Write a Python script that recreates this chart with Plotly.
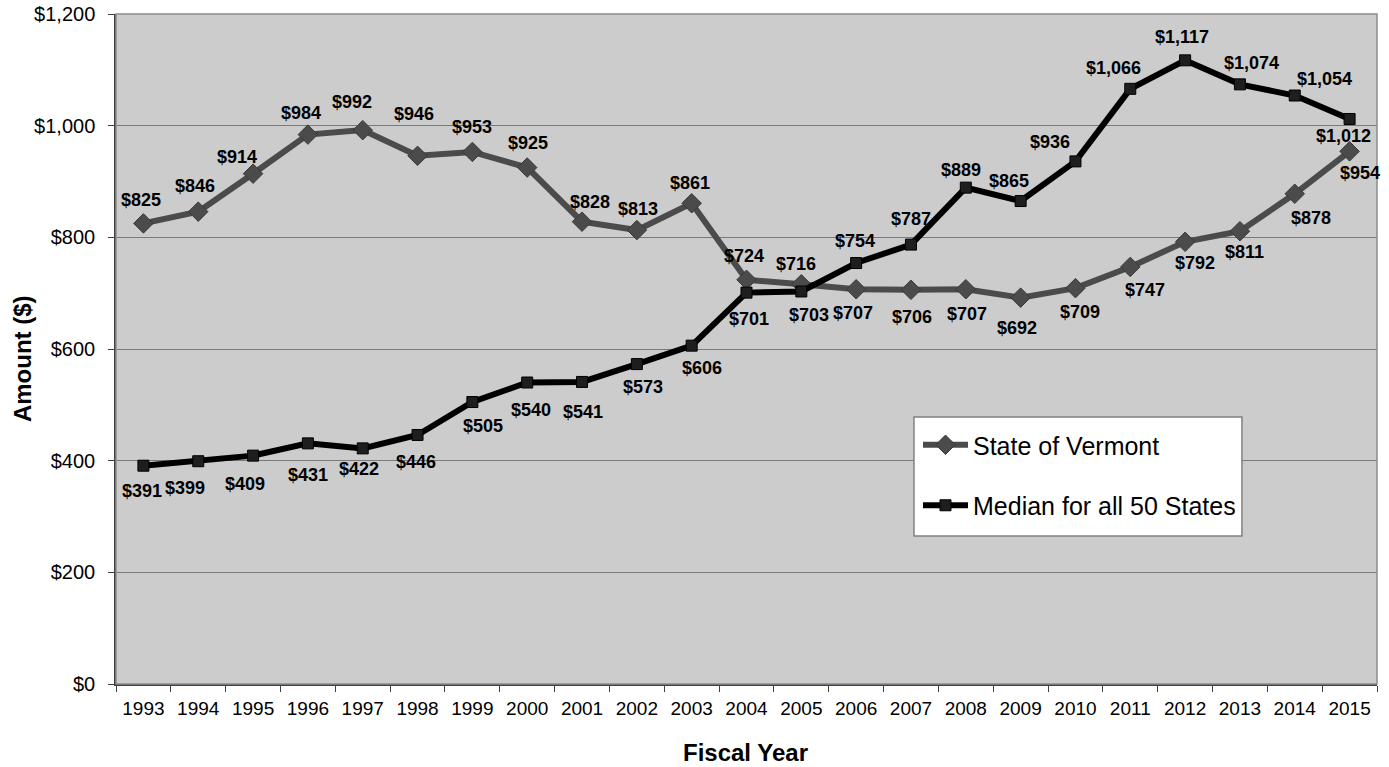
import plotly.graph_objects as go

# Fiscal years on the category axis
years = [str(y) for y in range(1993, 2016)]

# Per-capita amounts ($)
vermont = [825, 846, 914, 984, 992, 946, 953, 925, 828, 813, 861, 724,
           716, 707, 706, 707, 692, 709, 747, 792, 811, 878, 954]
median_50 = [391, 399, 409, 431, 422, 446, 505, 540, 541, 573, 606, 701,
             703, 754, 787, 889, 865, 936, 1066, 1117, 1074, 1054, 1012]

# Pixel nudges for the value labels (dx right, dy down)
vt_label_shift = [(-2, -23), (-3, -26), (-16, -17), (-7, -22), (-11, -28), (-4, -42),
                  (0, -25), (1, -25), (8, -20), (1, -21), (-2, -20), (-3, -24),
                  (-5, -20), (-3, 24), (1, 27), (1, 25), (-4, 30), (5, 24),
                  (15, 23), (10, 21), (5, 21), (16, 24), (10, 22)]
md_label_shift = [(-1, 25), (-13, 27), (-8, 28), (0, 32), (-4, 21), (-2, 27),
                  (11, 24), (4, 27), (1, 30), (6, 23), (10, 22), (2, 26),
                  (8, 24), (-1, -22), (0, -26), (-5, -18), (-12, -20), (-25, -19),
                  (-17, -21), (-3, -23), (12, -21), (30, -17), (-6, 17)]

FONT = "Arial, 'Liberation Sans', sans-serif"
VT_COLOR = "#4b4b4b"

fig = go.Figure()
fig.add_trace(go.Scatter(
    x=years, y=vermont, name="State of Vermont", mode="lines+markers",
    line=dict(color=VT_COLOR, width=6),
    marker=dict(symbol="diamond", size=15, color=VT_COLOR,
                line=dict(color="#3a3a3a", width=1)),
    legendgroup="vt",
))
fig.add_trace(go.Scatter(
    x=years, y=median_50, name="Median for all 50 States", mode="lines+markers",
    line=dict(color="#000000", width=6),
    marker=dict(symbol="square", size=11, color="#1e1e1e",
                line=dict(color="#000000", width=1)),
    legendgroup="md",
))

annotations = []
for series, shifts in ((vermont, vt_label_shift), (median_50, md_label_shift)):
    for i, (val, (dx, dy)) in enumerate(zip(series, shifts)):
        annotations.append(dict(
            x=i, y=val, xref="x", yref="y",
            text="<b>$" + f"{val:,}" + "</b>", showarrow=False,
            xshift=dx, yshift=-dy, xanchor="center", yanchor="middle",
            font=dict(family=FONT, size=18, color="#000000"),
        ))

# Axis titles
annotations.append(dict(
    text="<b>Amount ($)</b>", xref="paper", yref="paper",
    x=-0.0745, y=0.485, textangle=-90, showarrow=False,
    xanchor="center", yanchor="middle",
    font=dict(family=FONT, size=24, color="#000000"),
))
annotations.append(dict(
    text="<b>Fiscal Year</b>", xref="paper", yref="paper",
    x=0.4996, y=-0.1015, showarrow=False,
    xanchor="center", yanchor="middle",
    font=dict(family=FONT, size=24, color="#000000"),
))

shapes = [
    # plot-area frame
    dict(type="rect", xref="paper", yref="paper", x0=0, y0=0, x1=1, y1=1,
         line=dict(color="#8c8c8c", width=1.5), layer="above"),
    # legend box
    dict(type="rect", xref="paper", yref="paper",
         x0=0.6328, x1=0.8929, y0=0.2209, y1=0.3985,
         fillcolor="#ffffff", line=dict(color="#808080", width=1.5), layer="above"),
]

fig.update_layout(
    width=1389, height=767,
    margin=dict(l=116, r=12, t=14, b=83, autoexpand=False),
    paper_bgcolor="#ffffff",
    plot_bgcolor="#cccccc",
    font=dict(family=FONT, color="#000000"),
    showlegend=True,
    legend=dict(
        x=0.636, y=0.391, xanchor="left", yanchor="top",
        bgcolor="rgba(0,0,0,0)", borderwidth=0,
        font=dict(family=FONT, size=25, color="#000000"),
        itemwidth=45, tracegroupgap=25,
    ),
    annotations=annotations,
    shapes=shapes,
)

fig.update_xaxes(
    type="category", tickson="boundaries", ticks="outside", ticklen=6,
    tickcolor="#404040", showgrid=False, showline=True, linecolor="#404040",
    linewidth=1.5, tickfont=dict(family=FONT, size=19, color="#000000"),
    range=[-0.5, 22.5], automargin=False, ticklabelstandoff=6,
)
fig.update_yaxes(
    range=[0, 1200], dtick=200, tickprefix="$", tickformat=",d",
    ticks="outside", ticklen=6, tickcolor="#404040",
    showgrid=True, gridcolor="#7a7a7a", gridwidth=1,
    showline=True, linecolor="#404040", linewidth=1.5, zeroline=False,
    tickfont=dict(family=FONT, size=20, color="#000000"),
    automargin=False, ticklabelstandoff=9,
)

fig.write_html("out.html")
